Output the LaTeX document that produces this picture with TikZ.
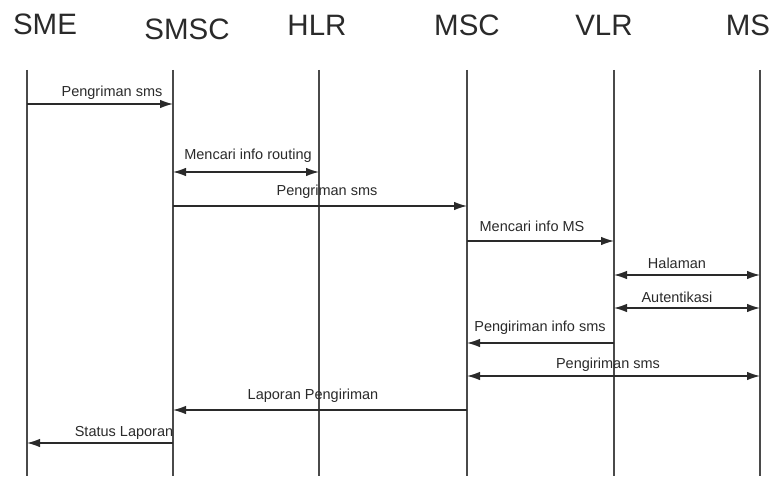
\documentclass[tikz,border=0pt]{standalone}
\usepackage{fontspec}
\setmainfont{Liberation Sans}
\usetikzlibrary{arrows.meta}
\definecolor{ink}{HTML}{2A2A2A}
\begin{document}
\begin{tikzpicture}[x=1pt,y=-1pt,
  head/.style={font=\fontsize{29.5}{32}\selectfont, text=ink, inner sep=0pt},
  life/.style={draw=ink!85, line width=1.2pt},
  tip/.style={},
  msg/.style={draw=ink, line width=1.2pt, -{Latex[length=13pt,width=8.5pt]}},
  bimsg/.style={draw=ink, line width=1.2pt, {Latex[length=13pt,width=8.5pt]}-{Latex[length=13pt,width=8.5pt]}},
  lbl/.style={font=\fontsize{14.5}{16}\selectfont, text=ink, inner sep=0pt}]
\useasboundingbox (0,0) rectangle (775,476);
% headers
\node[head] (hsme)  at (45,24) {SME};
\node[head] (hsmsc) at (187,29) {SMSC};
\node[head] (hhlr)  at (317,25) {HLR};
\node[head] (hmsc)  at (467,25) {MSC};
\node[head] (hvlr)  at (604,25) {VLR};
\node[head] (hms)   at (748,25) {MS};
% lifelines
\coordinate (sme)  at (27,70);  \coordinate (smeB)  at (27,476);
\coordinate (smsc) at (173,70); \coordinate (smscB) at (173,476);
\coordinate (hlr)  at (319,70); \coordinate (hlrB)  at (319,476);
\coordinate (msc)  at (467,70); \coordinate (mscB)  at (467,476);
\coordinate (vlr)  at (614,70); \coordinate (vlrB)  at (614,476);
\coordinate (ms)   at (760,70); \coordinate (msB)   at (760,476);
\foreach \a in {sme,smsc,hlr,msc,vlr,ms} \draw[life] (\a) -- (\a B);
% messages
\draw[msg]   (sme |- 0,104)  -- (smsc |- 0,104);
\node[lbl] (l1) at (112,93) {Pengriman sms};
\draw[bimsg] (smsc |- 0,172) -- (hlr |- 0,172);
\node[lbl] (l2) at (248,156) {Mencari info routing};
\draw[msg]   (smsc |- 0,206) -- (msc |- 0,206);
\node[lbl] (l3) at (327,192) {Pengriman sms};
\draw[msg]   (msc |- 0,241)  -- (vlr |- 0,241);
\node[lbl] (l4) at (532,226) {Mencari info MS};
\draw[bimsg] (vlr |- 0,275)  -- (ms |- 0,275);
\node[lbl] (l5) at (677,263) {Halaman};
\draw[bimsg] (vlr |- 0,308)  -- (ms |- 0,308);
\node[lbl] (l6) at (677,297) {Autentikasi};
\draw[msg]   (vlr |- 0,343)  -- (msc |- 0,343);
\node[lbl] (l7) at (540,328) {Pengiriman info sms};
\draw[bimsg] (msc |- 0,376)  -- (ms |- 0,376);
\node[lbl] (l8) at (608,365) {Pengiriman sms};
\draw[msg]   (msc |- 0,410)  -- (smsc |- 0,410);
\node[lbl] (l9) at (313,396) {Laporan Pengiriman};
\draw[msg]   (smsc |- 0,443) -- (sme |- 0,443);
\node[lbl] (l10) at (124,433) {Status Laporan};
\end{tikzpicture}
\end{document}
